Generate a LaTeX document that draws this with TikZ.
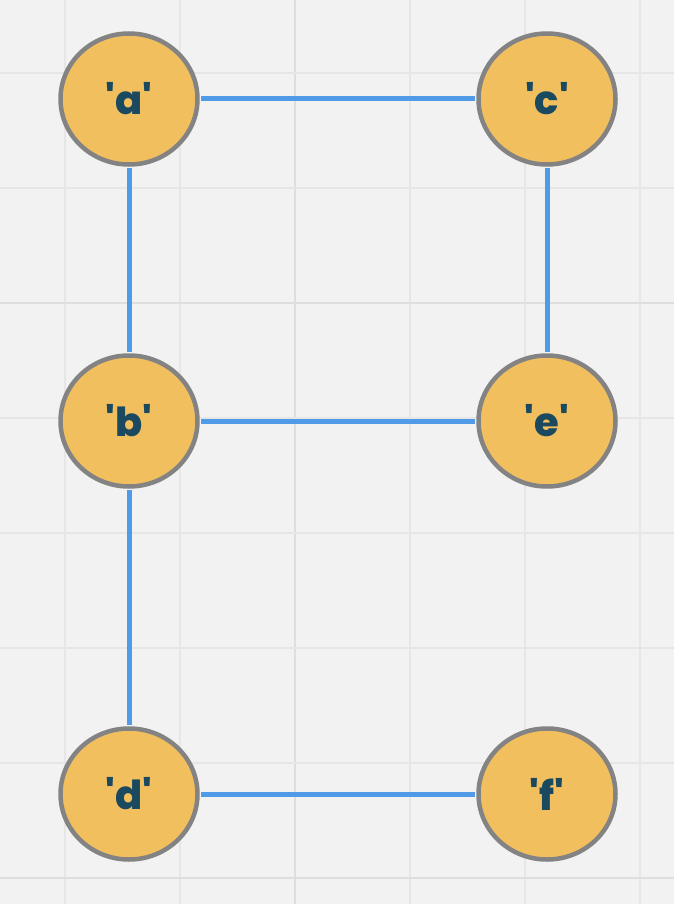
\documentclass[tikz,border=0pt]{standalone}
\usepackage{fontspec}
\newfontfamily\lblfont{Poppins}[UprightFont=* ExtraBold]
\definecolor{bgc}{HTML}{F2F2F2}
\definecolor{gridc}{HTML}{E6E6E6}
\definecolor{gridd}{HTML}{DEDEDE}
\definecolor{nodefill}{HTML}{F2BF5E}
\definecolor{nodeedge}{HTML}{838383}
\definecolor{txtc}{HTML}{1B4A60}
\definecolor{edgec}{HTML}{4F9BE8}
\usetikzlibrary{shapes.geometric}
\begin{document}
\begin{tikzpicture}[x=1pt,y=-1pt,
  vtx/.style={ellipse,draw=nodeedge,line width=4.5pt,fill=nodefill,minimum width=137pt,minimum height=131pt,inner sep=0pt,text=txtc,font=\lblfont\fontsize{40}{40}\selectfont},
  lnk/.style={draw=edgec,line width=5pt,shorten <=1.5pt,shorten >=1.5pt}]
\fill[bgc] (0,0) rectangle (674,904);
\useasboundingbox (0,0) rectangle (674,904);
\foreach \x in {65,180,410,525,640} \draw[gridc,line width=1.5pt] (\x,0) -- (\x,904);
\draw[gridd,line width=2pt] (295,0) -- (295,904);
\foreach \y in {73,188,418,533,648,763} \draw[gridc,line width=1.5pt] (0,\y) -- (674,\y);
\foreach \y in {303,878} \draw[gridd,line width=2pt] (0,\y) -- (674,\y);
\node[vtx] (a) at (129,99) {'a'};
\node[vtx] (c) at (547,99) {'c'};
\node[vtx] (b) at (129,421) {'b'};
\node[vtx] (e) at (547,421) {'e'};
\node[vtx] (d) at (129,794) {'d'};
\node[vtx] (f) at (547,794) {'f'};
\draw[lnk] (a) -- (c);
\draw[lnk] (a) -- (b);
\draw[lnk] (c) -- (e);
\draw[lnk] (b) -- (e);
\draw[lnk] (b) -- (d);
\draw[lnk] (d) -- (f);
\end{tikzpicture}
\end{document}
